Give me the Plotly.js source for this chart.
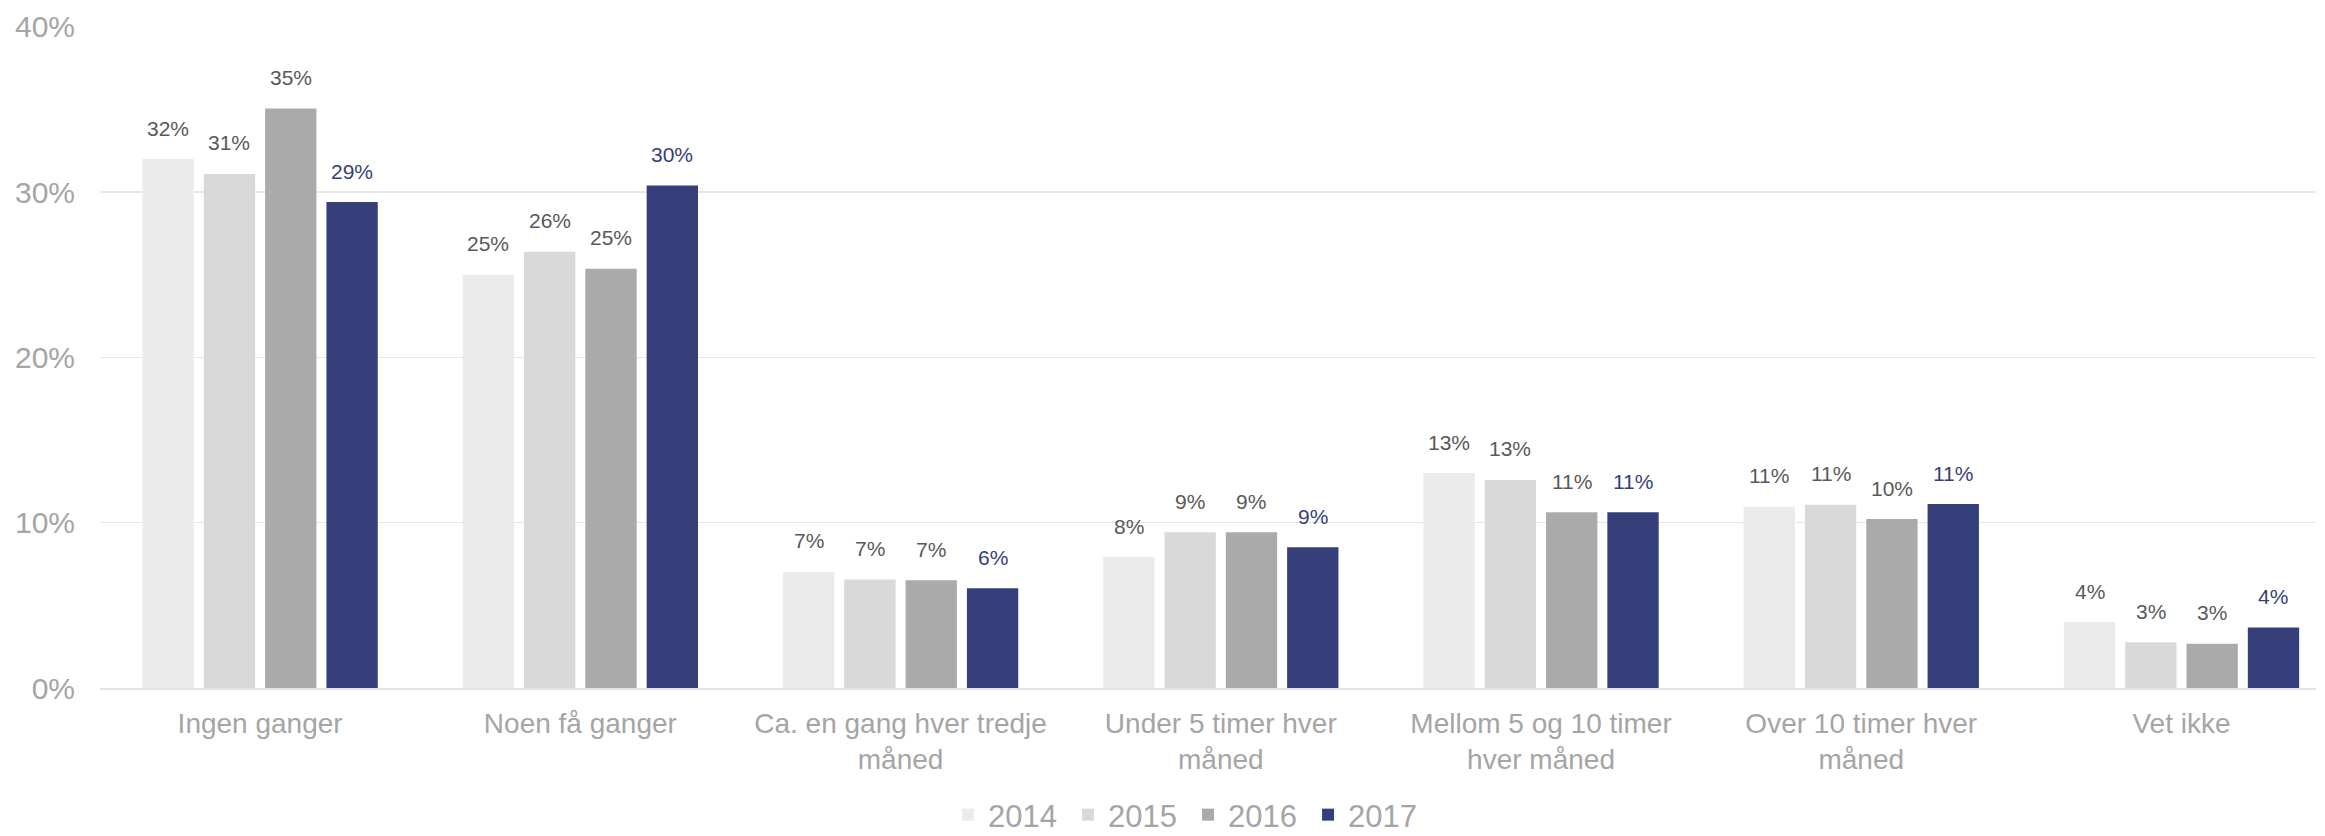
<!DOCTYPE html>
<html>
<head>
<meta charset="utf-8">
<script src="https://cdn.plot.ly/plotly-3.0.1.min.js"></script>
<style>html,body{margin:0;padding:0;background:#fff;}#chart{width:2325px;height:836px;}</style>
</head>
<body>
<div id="chart"></div>
<script>
const categories = [
  "Ingen ganger",
  "Noen få ganger",
  "Ca. en gang hver tredje<br>måned",
  "Under 5 timer hver<br>måned",
  "Mellom 5 og 10 timer<br>hver måned",
  "Over 10 timer hver<br>måned",
  "Vet ikke"
];
const seriesNames = ["2014", "2015", "2016", "2017"];
const values2014 = [0.320, 0.250, 0.0702, 0.0792, 0.130, 0.1096, 0.0399];
const values2015 = [0.311, 0.264, 0.0657, 0.0943, 0.1259, 0.1108, 0.0277];
const values2016 = [0.3506, 0.2536, 0.0652, 0.0943, 0.1064, 0.1022, 0.0267];
const values2017 = [0.294, 0.304, 0.0604, 0.0852, 0.1064, 0.1113, 0.0366];
const yTickVals = [0, 0.1, 0.2, 0.3, 0.4];
const yTickText = ["0%", "10%", "20%", "30%", "40%"];

const allValues = [values2014, values2015, values2016, values2017];
const barColors = ["#ebebeb", "#d9d9d9", "#aaaaaa", "#353f7a"];
const labelColors = ["#595959", "#595959", "#595959", "#353f7a"];
const FONT = "Liberation Sans, Arial, sans-serif";

const traces = allValues.map((vals, i) => ({
  type: "bar",
  name: seriesNames[i],
  x: categories,
  y: vals,
  marker: {color: barColors[i], line: {width: 0}},
  hoverinfo: "none"
}));

// Plot geometry used to offset value labels over each bar of a group
const marginL = 100, marginR = 9, W = 2325;
const xRange = [-0.5, 6.42];
const pxPerCat = (W - marginL - marginR) / (xRange[1] - xRange[0]);
const bargap = 0.234;
const step = pxPerCat * (1 - bargap) / seriesNames.length;

const annotations = [];
allValues.forEach((vals, i) => {
  vals.forEach((v, j) => {
    annotations.push({
      x: categories[j], y: v, xref: "x", yref: "y",
      text: Math.round(v * 100) + "%",
      showarrow: false,
      xanchor: "center", yanchor: "middle",
      xshift: (i - (seriesNames.length - 1) / 2) * step,
      yshift: 31,
      font: {family: FONT, size: 21, color: labelColors[i]}
    });
  });
});

const layout = {
  width: 2325, height: 836,
  paper_bgcolor: "#ffffff", plot_bgcolor: "#ffffff",
  margin: {l: marginL, r: marginR, t: 26, b: 148},
  barmode: "group",
  bargap: bargap,
  bargroupgap: 0.163,
  showlegend: true,
  legend: {
    orientation: "h",
    xref: "paper", yref: "container",
    x: 0.491, xanchor: "center",
    y: 0.0, yanchor: "bottom",
    font: {family: FONT, size: 31, color: "#a5a5a5"},
    entrywidth: 75, entrywidthmode: "pixels",
    itemclick: false, itemdoubleclick: false,
    bgcolor: "rgba(0,0,0,0)",
    tracegroupgap: 0
  },
  xaxis: {
    type: "category",
    range: xRange,
    showgrid: false,
    zeroline: false,
    showline: true, linecolor: "#e3e3e3", linewidth: 2,
    ticks: "",
    tickfont: {family: FONT, size: 28, color: "#a5a5a5"},
    ticklabelstandoff: 9,
    fixedrange: true
  },
  yaxis: {
    range: [0, 0.4005],
    tickvals: yTickVals,
    ticktext: yTickText,
    showgrid: true, gridcolor: "#e6e6e6", gridwidth: 1.5,
    zeroline: false,
    showline: false,
    ticks: "",
    tickfont: {family: FONT, size: 30, color: "#a5a5a5"},
    ticklabelstandoff: 24,
    fixedrange: true
  },
  annotations: annotations,
  font: {family: FONT}
};

Plotly.newPlot("chart", traces, layout, {displayModeBar: false, staticPlot: true}).then(function (gd) {
  // nudge the legend a little lower, toward the bottom edge as in the reference
  const lg = gd.querySelector("g.legend");
  if (lg) {
    const t = lg.getAttribute("transform") || "";
    const m = t.match(/translate\(\s*([-\d.]+)[ ,]+([-\d.]+)\s*\)/);
    if (m) {
      lg.setAttribute("transform", "translate(" + m[1] + "," + (parseFloat(m[2]) + 6) + ")");
    }
  }
});
</script>
</body>
</html>
